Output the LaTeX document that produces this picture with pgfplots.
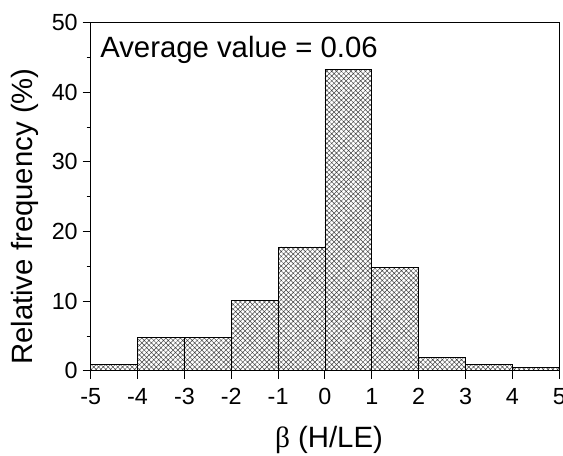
\documentclass[border=0pt]{standalone}
\usepackage{pgfplots}
\pgfplotsset{compat=1.18}
\usetikzlibrary{patterns.meta}
\usepackage{fontspec}
\setmainfont{Liberation Sans}
\newfontfamily\serif{Liberation Serif}

\begin{document}
\begin{tikzpicture}
\begin{axis}[
  scale only axis,
  width=351.5pt, height=261.2pt,
  xmin=-5, xmax=5, ymin=0, ymax=50,
  xtick={-5,...,5},
  xticklabels={-5,-4,-3,-2,-1,0,1,2,3,4,5},
  ytick={0,10,...,50},
  minor ytick={5,15,...,45},
  tick pos=left,
  tick align=outside,
  major tick length=6pt,
  minor tick length=3pt,
  axis line style={line width=0.75pt},
  every tick/.style={black, line width=0.75pt},
  /pgf/number format/assume math mode=true,
  tick label style={font=\fontsize{17.5}{19}\selectfont, inner sep=0pt},
  yticklabel shift=3.5pt,
  xticklabel shift=6.75pt,
  xlabel={{\serif β} (H/LE)},
  ylabel={Relative frequency (\%)},
  label style={font=\fontsize{22}{26}\selectfont},
  xlabel style={at={([yshift=-57.75pt]rel axis cs:0.5085,0)}, anchor=base},
  ylabel style={at={([xshift=-43.3pt]rel axis cs:0,0.443)}, anchor=base},
]
\addplot[ybar interval, draw=black, line width=0.6pt,
  pattern={Hatch[angle=45,distance=2.55pt,line width=0.35pt]}, pattern color=black!75]
  coordinates {(-5,0.9) (-4,4.8) (-3,4.8) (-2,10.1) (-1,17.8) (0,43.3) (1,14.9) (2,1.9) (3,0.9) (4,0.45) (5,0.45)};
\node[anchor=base west, inner sep=0pt, font=\fontsize{22}{26}\selectfont]
  at ([xshift=7pt,yshift=-26.5pt]rel axis cs:0,1) {Average value = 0.06};
\end{axis}
\pgfresetboundingbox
\useasboundingbox (-68pt,-63.75pt) rectangle (354.3pt,278.2pt);
\end{tikzpicture}
\end{document}
